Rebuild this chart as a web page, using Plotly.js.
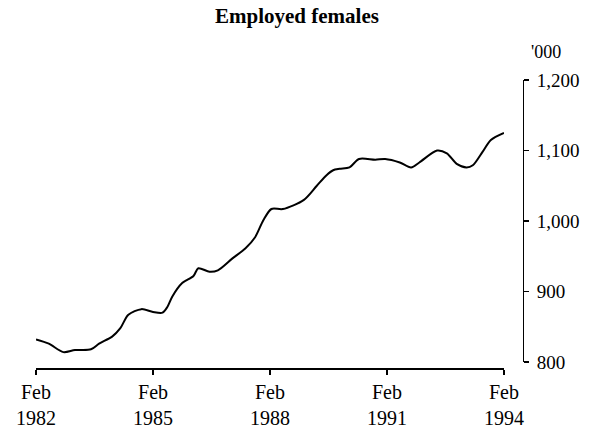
<!DOCTYPE html>
<html>
<head>
<meta charset="utf-8">
<script src="https://cdn.plot.ly/plotly-3.0.1.min.js"></script>
<style>html,body{margin:0;padding:0;background:#fff;}#chart{width:600px;height:429px;}</style>
</head>
<body>
<div id="chart"></div>
<script>
// Employed females ('000)
const dates = [
  '1982-02-01','1982-06-01','1982-10-15','1983-02-01','1983-07-01','1983-09-15',
  '1984-01-15','1984-04-01','1984-06-15','1984-10-15','1985-02-01','1985-05-01',
  '1985-06-15','1985-08-01','1985-11-01','1986-02-15','1986-04-01','1986-07-15',
  '1986-10-01','1987-02-15','1987-06-15','1987-09-15','1987-12-01','1988-02-15',
  '1988-06-01','1988-12-15','1989-04-15','1989-07-15','1989-09-15','1989-11-15',
  '1990-02-15','1990-05-15','1990-10-15','1991-01-15','1991-06-01','1991-09-15',
  '1991-12-01','1992-05-15','1992-08-15','1992-11-15','1993-02-15','1993-04-15',
  '1993-07-15','1993-10-01','1994-02-01'
];
const employed = [
  832, 826, 814, 817, 818, 826,
  836, 848, 867, 875, 871, 870,
  878, 893, 912, 922, 933, 928,
  930, 947, 961, 977, 1001, 1017,
  1017, 1030, 1050, 1065, 1072, 1074,
  1076, 1088, 1087, 1088, 1083, 1076,
  1083, 1100, 1096, 1081, 1076, 1079,
  1098, 1115, 1125
];
const xTickVals = ['1982-02-01','1985-02-01','1988-02-01','1991-02-01','1994-02-01'];
const xTickText = ['Feb<br>1982','Feb<br>1985','Feb<br>1988','Feb<br>1991','Feb<br>1994'];
const yTickVals = [800, 900, 1000, 1100, 1200];
const yTickText = ['800','900','1,000','1,100','1,200'];

const W = 600, H = 429;
const serif = 'Liberation Serif, Times New Roman, serif';

const trace = {
  x: dates, y: employed, type: 'scatter', mode: 'lines',
  line: {color: '#000', width: 2, shape: 'spline', smoothing: 0.8},
  hoverinfo: 'skip', showlegend: false
};

const layout = {
  width: W, height: H,
  margin: {l: 0, r: 0, t: 0, b: 0},
  paper_bgcolor: '#fff', plot_bgcolor: 'rgba(0,0,0,0)',
  font: {family: serif, color: '#000', size: 19},
  title: {
    text: '<b>Employed females</b>',
    font: {family: serif, size: 21, color: '#000'},
    xref: 'paper', x: 215 / W, xanchor: 'left',
    yref: 'container', y: 1 - 16 / H, yanchor: 'middle'
  },
  xaxis: {
    type: 'date',
    range: ['1982-02-01', '1994-02-01'],
    domain: [36 / W, 504 / W],
    anchor: 'free', position: (H - 368) / H,
    tickmode: 'array', tickvals: xTickVals, ticktext: xTickText,
    ticks: 'outside', ticklen: 5, tickwidth: 1.5, tickcolor: '#000',
    showline: true, linecolor: '#000', linewidth: 1.5,
    showgrid: false, zeroline: false,
    tickfont: {family: serif, size: 20, color: '#000'}
  },
  yaxis: {
    range: [800, 1200],
    domain: [(H - 362) / H, (H - 80) / H],
    side: 'right', anchor: 'free', position: 522.5 / W,
    tickmode: 'array', tickvals: yTickVals, ticktext: yTickText,
    ticks: 'outside', ticklen: 5, tickwidth: 1.5, tickcolor: '#000',
    showline: true, linecolor: '#000', linewidth: 1.5,
    showgrid: false, zeroline: false,
    ticklabelstandoff: 4,
    tickfont: {family: serif, size: 19, color: '#000'}
  },
  annotations: [{
    text: "'000", xref: 'paper', yref: 'paper',
    x: 546 / W, y: (H - 52) / H, xanchor: 'center', yanchor: 'middle',
    showarrow: false, font: {family: serif, size: 18, color: '#000'}
  }]
};

Plotly.newPlot('chart', [trace], layout, {staticPlot: true, displayModeBar: false});
</script>
</body>
</html>
